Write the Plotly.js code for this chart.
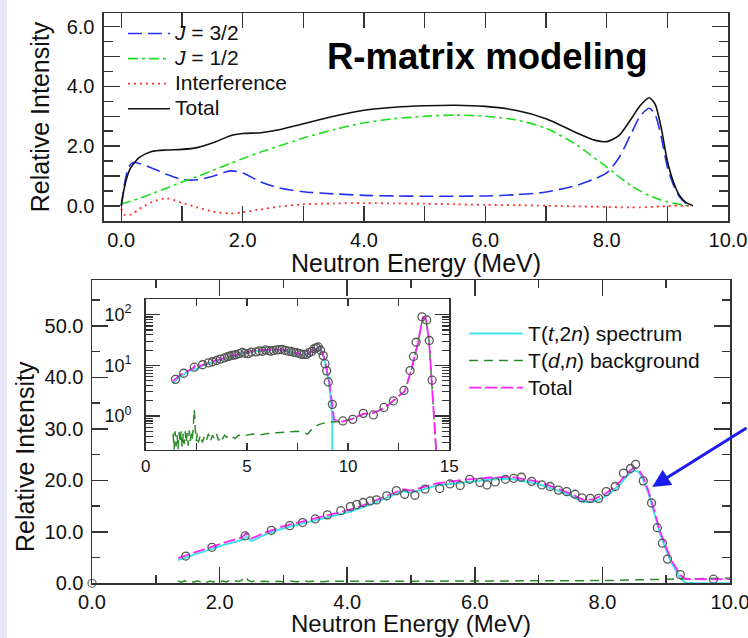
<!DOCTYPE html>
<html>
<head>
<meta charset="utf-8">
<script src="https://cdn.plot.ly/plotly-3.0.1.min.js"></script>
<style>html,body{margin:0;padding:0;background:#fff;}#plot{width:748px;height:638px;}</style>
</head>
<body>
<div id="plot"></div>
<script>
// ---------- Top panel: R-matrix modeling ----------
var topX = [0, 0.05, 0.1, 0.15, 0.2, 0.3, 0.5, 0.75, 1.0, 1.25, 1.5, 1.8, 2.0, 2.3, 2.6, 3.0, 3.5, 4.0, 4.5, 5.0, 5.5, 6.0, 6.5, 7.0, 7.5, 7.8, 8.0, 8.2, 8.4, 8.55, 8.7, 8.8, 8.9, 9.0, 9.1, 9.2, 9.3, 9.42];
var j32 = [0, 0.7, 1.15, 1.38, 1.45, 1.42, 1.27, 1.05, 0.88, 0.87, 0.98, 1.17, 1.1, 0.8, 0.6, 0.47, 0.4, 0.35, 0.33, 0.32, 0.32, 0.33, 0.37, 0.46, 0.68, 0.9, 1.1, 1.6, 2.4, 3.0, 3.27, 3.05, 2.3, 1.3, 0.7, 0.3, 0.1, 0.0];
var j12 = [0.05, 0.09, 0.12, 0.15, 0.18, 0.25, 0.4, 0.6, 0.8, 0.98, 1.18, 1.42, 1.58, 1.8, 2.0, 2.27, 2.55, 2.78, 2.92, 3.0, 3.04, 3.0, 2.88, 2.6, 2.05, 1.6, 1.3, 0.98, 0.68, 0.5, 0.34, 0.26, 0.19, 0.13, 0.08, 0.05, 0.02, 0.0];
var interf = [-0.1, -0.3, -0.31, -0.3, -0.25, -0.1, 0.12, 0.25, 0.1, -0.05, -0.19, -0.26, -0.22, -0.12, -0.03, 0.05, 0.08, 0.09, 0.08, 0.07, 0.05, 0.03, 0.02, 0.0, -0.02, -0.03, -0.04, -0.05, -0.05, -0.05, -0.04, -0.03, -0.02, -0.01, 0.0, 0.0, 0.0, 0.0];
var totalTop = [0, 0.6, 1.0, 1.25, 1.4, 1.62, 1.82, 1.87, 1.89, 1.95, 2.1, 2.35, 2.42, 2.45, 2.55, 2.75, 3.0, 3.2, 3.3, 3.35, 3.37, 3.33, 3.2, 2.92, 2.45, 2.2, 2.15, 2.35, 2.9, 3.35, 3.62, 3.4, 2.6, 1.5, 0.8, 0.35, 0.12, 0.0];

// ---------- Bottom panel: fit to data ----------
var t2nX = [1.35, 1.6, 1.85, 2.1, 2.35, 2.42, 2.5, 2.7, 2.95, 3.2, 3.52, 3.8, 4.04, 4.3, 4.57, 4.88, 5.0, 5.4, 5.82, 6.2, 6.55, 6.97, 7.28, 7.5, 7.7, 7.85, 8.01, 8.15, 8.28, 8.4, 8.49, 8.57, 8.64, 8.72, 8.8, 8.9, 9.06, 9.22, 9.3, 9.5, 10.0];
var t2nY = [4.5, 5.6, 6.6, 7.6, 8.4, 9.0, 8.2, 9.4, 10.5, 11.3, 12.3, 13.1, 13.9, 15.0, 16.3, 17.9, 17.6, 19.0, 19.6, 20.1, 20.3, 19.4, 18.1, 17.0, 15.8, 15.8, 16.6, 17.8, 19.3, 21.0, 22.0, 21.6, 20.1, 17.5, 14.2, 9.7, 4.5, 1.0, 0.1, 0.0, 0.0];

var bgX = [1.35, 1.4, 1.45, 1.5, 1.55, 1.6, 1.65, 1.7, 1.75, 1.8, 1.85, 1.9, 1.95, 2.0, 2.05, 2.1, 2.15, 2.2, 2.25, 2.3, 2.35, 2.4, 2.45, 2.5, 2.55, 2.6, 2.7, 2.8, 2.9, 3.0, 3.1, 3.2, 3.3, 3.4, 3.5, 3.6, 3.7, 3.8, 3.9, 4.0, 4.2, 4.4, 4.6, 4.8, 5.0, 5.3, 5.6, 6.0, 6.5, 7.0, 7.5, 7.8, 8.0, 8.2, 8.5, 9.0, 9.7, 10.2, 10.75, 11.25, 11.8, 12.2, 12.8, 13.1, 13.3, 13.45, 13.7, 13.85, 14.0, 14.2, 14.4];
var bgY = [0.45, 0.22, 0.5, 0.25, 0.42, 0.22, 0.48, 0.3, 0.5, 0.24, 0.45, 0.28, 0.5, 0.3, 0.46, 0.26, 0.52, 0.32, 0.45, 0.35, 0.6, 1.35, 0.55, 0.32, 0.45, 0.3, 0.42, 0.3, 0.4, 0.33, 0.45, 0.32, 0.42, 0.35, 0.44, 0.33, 0.41, 0.36, 0.42, 0.38, 0.42, 0.36, 0.42, 0.4, 0.42, 0.44, 0.42, 0.45, 0.47, 0.48, 0.5, 0.47, 0.44, 0.55, 0.67, 0.76, 0.78, 0.88, 1.1, 1.15, 1.45, 1.95, 3.1, 7.5, 15, 28, 92, 80, 30, 1.5, 0.1];

var totX = [1.35, 1.6, 1.85, 2.1, 2.35, 2.42, 2.5, 2.7, 2.95, 3.2, 3.52, 3.8, 4.04, 4.3, 4.57, 4.88, 5.0, 5.4, 5.82, 6.2, 6.55, 6.97, 7.28, 7.5, 7.7, 7.85, 8.01, 8.15, 8.28, 8.4, 8.49, 8.57, 8.64, 8.72, 8.8, 8.9, 9.06, 9.22, 9.3, 9.5, 9.7, 10.2, 10.75, 11.25, 11.8, 12.2, 12.8, 13.1, 13.3, 13.45, 13.7, 13.85, 14.0, 14.2, 14.4];
var totY = [4.9, 6.0, 7.0, 8.0, 8.9, 9.8, 8.7, 9.8, 10.9, 11.7, 12.7, 13.5, 14.3, 15.4, 16.7, 18.3, 18.0, 19.4, 20.1, 20.5, 20.7, 19.8, 18.5, 17.4, 16.2, 16.3, 17.1, 18.3, 19.8, 21.5, 22.5, 22.1, 20.6, 18.0, 14.7, 10.2, 5.0, 1.6, 0.85, 0.8, 0.78, 0.88, 1.1, 1.15, 1.45, 1.95, 3.1, 7.5, 15, 28, 92, 80, 30, 1.5, 0.1];

var dataX = [1.47, 1.88, 2.40, 2.81, 3.10, 3.30, 3.50, 3.69, 3.90, 4.05, 4.15, 4.25, 4.36, 4.46, 4.62, 4.77, 4.90, 5.06, 5.22, 5.45, 5.61, 5.77, 5.92, 6.08, 6.19, 6.32, 6.48, 6.61, 6.73, 6.89, 7.05, 7.18, 7.31, 7.44, 7.57, 7.68, 7.81, 7.94, 8.06, 8.20, 8.33, 8.44, 8.52, 8.64, 8.77, 8.86, 8.94, 9.02, 9.22, 9.74, 10.23, 10.75, 11.25, 11.77, 12.24, 12.76, 13.06, 13.23, 13.36, 13.65, 13.88, 14.01, 14.15];
var dataY = [5.3, 7.0, 9.2, 10.3, 11.2, 11.8, 12.5, 13.3, 14.1, 14.9, 15.3, 15.7, 16.0, 16.2, 17.0, 18.0, 17.3, 17.1, 18.3, 18.4, 19.3, 19.0, 20.2, 19.6, 19.1, 19.7, 20.2, 20.4, 20.6, 19.8, 19.1, 18.8, 18.1, 17.8, 17.3, 16.6, 16.5, 16.5, 17.8, 18.8, 21.4, 22.3, 23.1, 19.9, 15.6, 10.8, 7.8, 4.7, 1.7, 0.8, 0.86, 1.13, 1.05, 1.48, 2.0, 3.2, 7.9, 15, 28.6, 91, 79, 31, 5.1];
var originX = [0];
var originY = [0];

var topTickText = ['0.0', '', '2.0', '', '4.0', '', '6.0', '', '8.0', '', '10.0'];
var topYTickText = ['0.0', '', '2.0', '', '4.0', '', '6.0'];
var botXTickText = ['0.0', '2.0', '4.0', '6.0', '8.0', '10.0'];
var insetYTickText = ['10<sup>0</sup>', '10<sup>1</sup>', '10<sup>2</sup>'];

var FONT = 'Liberation Sans, Arial, sans-serif';
function L(t, fs) { return '<span style="font-size:' + fs + 'px">' + t + '</span>'; }
var SPL = {shape: 'spline', smoothing: 0.7};

var traces = [
  {x: topX, y: j32, mode: 'lines', name: L('<i>J</i> = 3/2', 21), line: Object.assign({color: '#2430f0', dash: '14px,6px', width: 1.6}, SPL), xaxis: 'x', yaxis: 'y', legend: 'legend'},
  {x: topX, y: j12, mode: 'lines', name: L('<i>J</i> = 1/2', 21), line: Object.assign({color: '#1ee01e', dash: '10px,4px,3px,4px', width: 1.6}, SPL), xaxis: 'x', yaxis: 'y', legend: 'legend'},
  {x: topX, y: interf, mode: 'lines', name: L('Interference', 21), line: Object.assign({color: '#ff3030', dash: '2px,4px', width: 1.8}, SPL), xaxis: 'x', yaxis: 'y', legend: 'legend'},
  {x: topX, y: totalTop, mode: 'lines', name: L('Total', 21), line: Object.assign({color: '#111111', width: 1.6}, SPL), xaxis: 'x', yaxis: 'y', legend: 'legend'},

  {x: t2nX, y: t2nY, mode: 'lines', name: L('T(<i>t</i>,2<i>n</i>) spectrum', 21), line: {color: '#3fe3ea', width: 2}, xaxis: 'x2', yaxis: 'y2', legend: 'legend2'},
  {x: bgX, y: bgY, mode: 'lines', name: L('T(<i>d</i>,<i>n</i>) background', 21), line: {color: '#2a8a2a', dash: '9px,6px', width: 1.5}, xaxis: 'x2', yaxis: 'y2', legend: 'legend2'},
  {x: totX, y: totY, mode: 'lines', name: L('Total', 21), line: {color: '#ff22ff', dash: '12px,4px', width: 1.8}, xaxis: 'x2', yaxis: 'y2', legend: 'legend2'},
  {x: dataX, y: dataY, mode: 'markers', showlegend: false, marker: {symbol: 'circle-open', size: 8, color: '#555', line: {width: 1.3}}, xaxis: 'x2', yaxis: 'y2'},
  {x: originX, y: originY, mode: 'markers', showlegend: false, cliponaxis: false, marker: {symbol: 'circle-open', size: 8, color: '#777', line: {width: 1.3}}, xaxis: 'x2', yaxis: 'y2'},

  {x: t2nX, y: t2nY, mode: 'lines', showlegend: false, line: {color: '#3fe3ea', width: 2}, xaxis: 'x3', yaxis: 'y3'},
  {x: bgX, y: bgY, mode: 'lines', showlegend: false, line: {color: '#2a8a2a', dash: '9px,6px', width: 1.5}, xaxis: 'x3', yaxis: 'y3'},
  {x: totX, y: totY, mode: 'lines', showlegend: false, line: {color: '#ff22ff', dash: '12px,4px', width: 1.8}, xaxis: 'x3', yaxis: 'y3'},
  {x: dataX, y: dataY, mode: 'markers', showlegend: false, marker: {symbol: 'circle-open', size: 8, color: '#555', line: {width: 1.3}}, xaxis: 'x3', yaxis: 'y3'}
];

function ax(o) {
  return Object.assign({
    showline: true, linecolor: '#333', linewidth: 1.5, mirror: 'ticks',
    ticks: 'inside', tickcolor: '#333', tickwidth: 1.5,
    showgrid: false, zeroline: false, ticklabeloverflow: 'allow',
    tickfont: {size: 20, color: '#111', family: FONT}
  }, o);
}

var layout = {
  width: 748, height: 638,
  margin: {l: 0, r: 0, t: 0, b: 0},
  paper_bgcolor: '#ffffff', plot_bgcolor: '#ffffff',
  font: {family: FONT, color: '#111'},
  xaxis: ax({domain: [0.139, 0.9733], range: [-0.285, 10], anchor: 'y',
    tickmode: 'array', tickvals: [0, 1, 2, 3, 4, 5, 6, 7, 8, 9, 10], ticktext: topTickText, ticklen: 15}),
  yaxis: ax({domain: [0.6536, 0.9796], range: [-0.51, 6.46], anchor: 'x',
    tickmode: 'array', tickvals: [0, 1, 2, 3, 4, 5, 6], ticktext: topYTickText, ticklen: 16, ticklabelstandoff: 4,
    minor: {ticks: 'inside', dtick: 0.5, tick0: 0, ticklen: 9, tickcolor: '#333', tickwidth: 1.5},
    title: {text: 'Relative Intensity', font: {size: 25}, standoff: 10}}),
  xaxis2: ax({domain: [0.123, 0.976], range: [0, 10], anchor: 'y2',
    tickmode: 'array', tickvals: [0, 2, 4, 6, 8, 10], ticktext: botXTickText, ticklen: 16,
    minor: {ticks: 'inside', dtick: 1, tick0: 0, ticklen: 8, tickcolor: '#333', tickwidth: 1.5}}),
  yaxis2: ax({domain: [0.0857, 0.5611], range: [0, 58.9], anchor: 'x2',
    dtick: 10, tick0: 0, tickformat: '.1f', ticklen: 16, ticklabelstandoff: 3,
    minor: {ticks: 'inside', dtick: 5, tick0: 0, ticklen: 8, tickcolor: '#333', tickwidth: 1.5}}),
  xaxis3: ax({domain: [0.1948, 0.6007], range: [0, 15], anchor: 'y3',
    dtick: 5, tick0: 0, ticklen: 7, tickfont: {size: 17, color: '#111', family: FONT},
    minor: {ticks: 'inside', dtick: 2.5, tick0: 0, ticklen: 7, tickcolor: '#333', tickwidth: 1.5}}),
  yaxis3: ax({domain: [0.2947, 0.5313], type: 'log', range: [-0.67, 2.31], anchor: 'x3',
    tickmode: 'array', tickvals: [1, 10, 100], ticktext: insetYTickText, ticklen: 14, ticklabelstandoff: 9,
    tickfont: {size: 18, color: '#111', family: FONT},
    minor: {ticks: 'inside', tickmode: 'array', tickvals: [0.3, 0.4, 0.5, 0.6, 0.7, 0.8, 0.9, 2, 3, 4, 5, 6, 7, 8, 9, 20, 30, 40, 50, 60, 70, 80, 90, 200], ticklen: 7, tickcolor: '#333', tickwidth: 1.2}}),
  legend: {x: 0.1644, y: 0.975, xanchor: 'left', yanchor: 'top', bgcolor: 'rgba(0,0,0,0)',
    font: {size: 17, family: FONT, color: '#111'}, itemwidth: 42, tracegroupgap: 0},
  legend2: {x: 0.6204, y: 0.5062, xanchor: 'left', yanchor: 'top', bgcolor: 'rgba(0,0,0,0)',
    font: {size: 18.5, family: FONT, color: '#111'}, itemwidth: 54, tracegroupgap: 0},
  shapes: [
    {type: 'rect', xref: 'paper', yref: 'paper', x0: 0, x1: 0.0094, y0: 0, y1: 1, fillcolor: '#e6e6f6', line: {width: 0}, layer: 'below'}
  ],
  annotations: [
    {text: '<b>R-matrix modeling</b>', xref: 'paper', yref: 'paper', x: 0.651, y: 0.911, xanchor: 'center', yanchor: 'middle', showarrow: false,
      font: {size: 36.5, family: FONT, color: '#000'}},
    {text: 'Neutron Energy (MeV)', xref: 'paper', yref: 'paper', x: 0.556, y: 0.5885, xanchor: 'center', yanchor: 'middle', showarrow: false,
      font: {size: 25, family: FONT, color: '#111'}},
    {text: 'Neutron Energy (MeV)', xref: 'paper', yref: 'paper', x: 0.5495, y: 0.0225, xanchor: 'center', yanchor: 'middle', showarrow: false,
      font: {size: 24, family: FONT, color: '#111'}},
    {text: 'Relative Intensity', xref: 'paper', yref: 'paper', x: 0.0334, y: 0.2853, xanchor: 'center', yanchor: 'middle', textangle: -90, showarrow: false,
      font: {size: 25, family: FONT, color: '#111'}},
    {text: '', xref: 'x2', yref: 'y2', x: 8.78, y: 18.7, ax: 96, ay: -60, showarrow: true,
      arrowhead: 2, arrowsize: 1.2, arrowwidth: 3, arrowcolor: '#1c1cf0'}
  ]
};

Plotly.newPlot('plot', traces, layout, {displayModeBar: false, staticPlot: true});
</script>
</body>
</html>
